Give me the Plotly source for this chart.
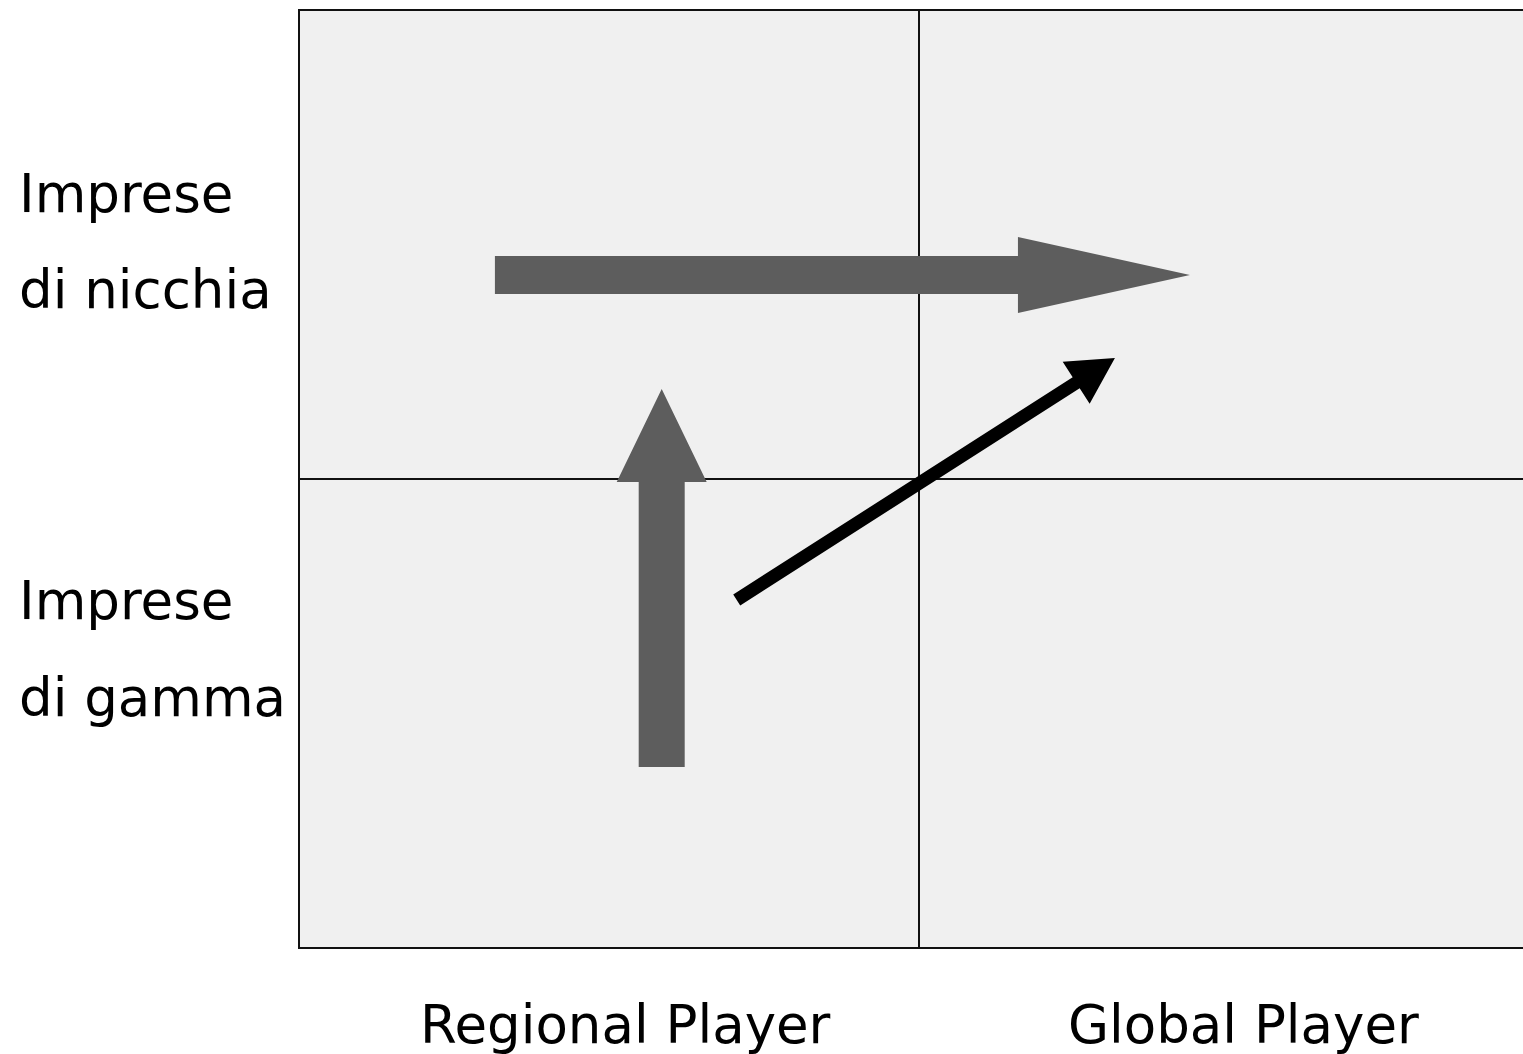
import plotly.graph_objects as go
import math

# ---- diagram data (units: 1 = one quadrant side) ----
quadrant_cols = [0, 1, 2]          # x boundaries of the 2x2 grid
quadrant_rows = [0, 1, 2]          # y boundaries of the 2x2 grid
row_labels = [["Imprese", "di nicchia"], ["Imprese", "di gamma"]]   # top, bottom
row_label_y = [[1.608, 1.405], [0.742, 0.535]]
col_labels = ["Regional Player", "Global Player"]
col_label_x = [0.526, 1.524]
col_label_y = -0.164
left_label_x = -0.455

# arrows: tail, tip, shaft width (px), head length (px), head width (px), colour
arrow_tails = [(0.316, 1.435), (0.585, 0.386), (0.706, 0.742)]
arrow_tips = [(1.437, 1.435), (0.585, 1.192), (1.316, 1.258)]
arrow_shaft = [38, 46, 13]
arrow_head_len = [172, 93, 46]
arrow_head_w = [76, 90, 50]
arrow_colors = ["#5d5d5d", "#5d5d5d", "#000000"]

W, H = 1523, 1054
x_range = [(0 - 299) / 620, (W - 299) / 620]
y_range = [(948 - H) / 469, (948 - 0) / 469]
sx = W / (x_range[1] - x_range[0])   # px per unit
sy = H / (y_range[1] - y_range[0])

fig = go.Figure()
fig.add_trace(go.Scatter(x=[None], y=[None], showlegend=False))

shapes = []
shapes.append(dict(type="rect", xref="x", yref="y",
                   x0=quadrant_cols[0], x1=quadrant_cols[-1],
                   y0=quadrant_rows[0], y1=quadrant_rows[-1],
                   fillcolor="#f0f0f0", line=dict(color="#111111", width=2), layer="below"))
shapes.append(dict(type="line", xref="x", yref="y", x0=quadrant_cols[1], x1=quadrant_cols[1],
                   y0=quadrant_rows[0], y1=quadrant_rows[-1], line=dict(color="#111111", width=2)))
shapes.append(dict(type="line", xref="x", yref="y", x0=quadrant_cols[0], x1=quadrant_cols[-1],
                   y0=quadrant_rows[1], y1=quadrant_rows[1], line=dict(color="#111111", width=2)))


def arrow_path(tail, tip, sw, hl, hw):
    tx, ty = tail[0] * sx, tail[1] * sy
    px, py = tip[0] * sx, tip[1] * sy
    dx, dy = px - tx, py - ty
    L = math.hypot(dx, dy)
    ux, uy = dx / L, dy / L
    nx, ny = -uy, ux
    bx, by = px - ux * hl, py - uy * hl
    pts = [
        (tx + nx * sw / 2, ty + ny * sw / 2),
        (bx + nx * sw / 2, by + ny * sw / 2),
        (bx + nx * hw / 2, by + ny * hw / 2),
        (px, py),
        (bx - nx * hw / 2, by - ny * hw / 2),
        (bx - nx * sw / 2, by - ny * sw / 2),
        (tx - nx * sw / 2, ty - ny * sw / 2),
    ]
    pts = [(a / sx, b / sy) for a, b in pts]
    return "M " + " L ".join(f"{a:.5f},{b:.5f}" for a, b in pts) + " Z"


for i in range(len(arrow_tails)):
    shapes.append(dict(type="path", xref="x", yref="y",
                       path=arrow_path(arrow_tails[i], arrow_tips[i], arrow_shaft[i],
                                       arrow_head_len[i], arrow_head_w[i]),
                       fillcolor=arrow_colors[i], line=dict(width=0), layer="above"))

annotations = []
font = dict(family="DejaVu Sans", size=53, color="#000000")
for lines, ys in zip(row_labels, row_label_y):
    for t, yv in zip(lines, ys):
        annotations.append(dict(x=left_label_x, y=yv, xref="x", yref="y", text=t,
                                showarrow=False, xanchor="left", yanchor="middle", font=font))
for t, xv in zip(col_labels, col_label_x):
    annotations.append(dict(x=xv, y=col_label_y, xref="x", yref="y", text=t,
                            showarrow=False, xanchor="center", yanchor="middle", font=font))

fig.update_layout(
    width=W, height=H,
    margin=dict(l=0, r=0, t=0, b=0),
    paper_bgcolor="white", plot_bgcolor="white",
    xaxis=dict(range=x_range, visible=False, fixedrange=True),
    yaxis=dict(range=y_range, visible=False, fixedrange=True),
    shapes=shapes, annotations=annotations, showlegend=False,
)
fig.write_html("out.html")
